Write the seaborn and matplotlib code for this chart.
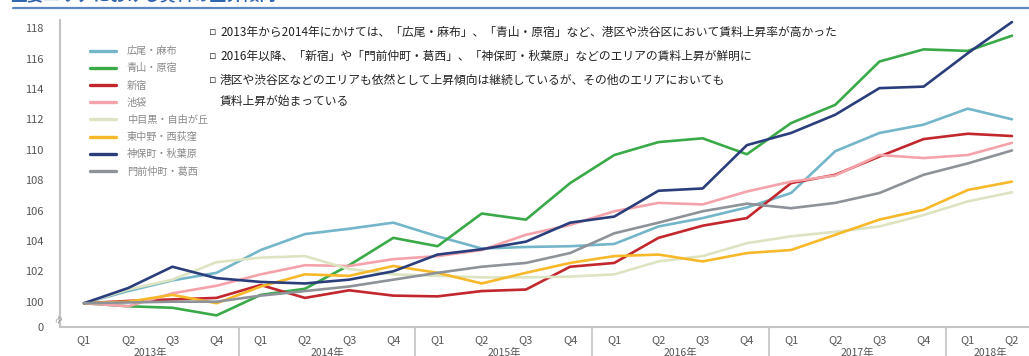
import matplotlib
matplotlib.use("Agg")
import matplotlib.pyplot as plt
import numpy as np
import pandas as pd
import seaborn as sns
from matplotlib.transforms import blended_transform_factory

# ---- data -------------------------------------------------------------
quarters = ["Q1", "Q2", "Q3", "Q4"] * 5 + ["Q1", "Q2"]
years = ["2013年", "2014年", "2015年", "2016年", "2017年", "2018年"]
areas = ["広尾・麻布", "青山・原宿", "新宿", "池袋",
         "中目黒・自由が丘", "東中野・西荻窪", "神保町・秋葉原", "門前仲町・葛西"]

hiroo_azabu = [99.9, 100.7, 101.4, 101.9, 103.4, 104.45, 104.8, 105.2, 104.3, 103.5, 103.6,
               103.65, 103.8, 104.95, 105.5, 106.2, 107.15, 109.9, 111.1, 111.65, 112.7, 112.0]
aoyama_harajuku = [99.9, 99.7, 99.6, 99.1, 100.45, 100.85, 102.4, 104.2, 103.65, 105.8, 105.4,
                   107.8, 109.65, 110.5, 110.75, 109.7, 111.75, 112.95, 115.8, 116.6, 116.5, 117.5]
shinjuku = [99.9, 100.05, 100.15, 100.25, 101.1, 100.25, 100.75, 100.4, 100.35, 100.7, 100.8,
            102.3, 102.55, 104.2, 105.0, 105.5, 107.8, 108.35, 109.55, 110.7, 111.05, 110.9]
ikebukuro = [99.9, 99.7, 100.55, 101.05, 101.8, 102.4, 102.35, 102.8, 103.0, 103.4, 104.4,
             105.05, 105.95, 106.5, 106.4, 107.25, 107.9, 108.3, 109.65, 109.45, 109.65, 110.45]
nakameguro_jiyugaoka = [99.9, 100.8, 101.45, 102.6, 102.9, 103.0, 102.15, 101.8, 101.7, 101.6, 101.6,
                        101.65, 101.8, 102.65, 103.0, 103.85, 104.3, 104.6, 104.95, 105.7, 106.6, 107.2]
higashinakano_nishiogikubo = [99.9, 100.0, 100.45, 99.9, 101.0, 101.8, 101.7, 102.35, 101.9, 101.2, 101.9,
                              102.55, 103.0, 103.1, 102.65, 103.2, 103.4, 104.4, 105.4, 106.05, 107.35, 107.9]
jimbocho_akihabara = [99.9, 100.9, 102.3, 101.55, 101.3, 101.2, 101.45, 102.0, 103.1, 103.45, 103.95,
                      105.2, 105.6, 107.3, 107.45, 110.3, 111.1, 112.3, 114.05, 114.15, 116.35, 118.4]
monzennakacho_kasai = [99.9, 99.95, 100.0, 100.0, 100.4, 100.7, 101.0, 101.45, 101.9, 102.3, 102.55,
                       103.2, 104.5, 105.2, 105.95, 106.45, 106.15, 106.5, 107.15, 108.35, 109.1, 109.95]

series = [hiroo_azabu, aoyama_harajuku, shinjuku, ikebukuro, nakameguro_jiyugaoka,
          higashinakano_nishiogikubo, jimbocho_akihabara, monzennakacho_kasai]
colors = ["#74b6c9", "#3aaa48", "#c1272d", "#f5a3ab",
          "#dde4c2", "#f7b82a", "#2b3e7c", "#8e9399"]

notes = [
    "2013年から2014年にかけては、「広尾・麻布」、「青山・原宿」など、港区や渋谷区において賃料上昇率が高かった",
    "2016年以降、「新宿」や「門前仲町・葛西」、「神保町・秋葉原」などのエリアの賃料上昇が鮮明に",
    "港区や渋谷区などのエリアも依然として上昇傾向は継続しているが、その他のエリアにおいても",
]
note_tail = "賃料上昇が始まっている"

idx = np.arange(len(quarters))
df = pd.DataFrame({
    "t": np.tile(idx, len(areas)),
    "value": np.concatenate(series),
    "area": np.repeat(areas, len(idx)),
})

# ---- figure -----------------------------------------------------------
sns.set_style("white")
plt.rcParams["font.family"] = ["Noto Sans CJK JP", "DejaVu Sans"]

W, H = 1029, 356
fig = plt.figure(figsize=(W / 100, H / 100), dpi=100)

# axis frame in pixel terms
x_left, x_right = 60, 1029
y_top, y_bot = 20, 326.7
ax = fig.add_axes([x_left / W, 1 - y_bot / H, (x_right - x_left) / W, (y_bot - y_top) / H])

px_per_q = 44.2
x0 = -(84 - x_left) / px_per_q
x1 = 21 + (x_right - 1012) / px_per_q
px_per_unit = 15.2
y_zero = 100 - (y_bot - 301.7) / px_per_unit
y_max = 100 + (301.7 - y_top) / px_per_unit

sns.lineplot(data=df, x="t", y="value", hue="area", hue_order=areas,
             palette=colors, estimator=None, sort=False, linewidth=1.9, ax=ax)

ax.set_xlim(x0, x1)
ax.set_ylim(y_zero, y_max)

grey_txt = "#555555"
ax.set_yticks([y_zero] + list(range(100, 119, 2)))
ax.set_yticklabels(["0"] + [str(v) for v in range(100, 119, 2)])
ax.set_xticks(idx)
ax.set_xticklabels(quarters)
ax.tick_params(axis="y", length=8, width=1.0, color="#aaaaaa", labelsize=8,
               labelcolor=grey_txt, pad=4)
ax.tick_params(axis="x", length=0, labelsize=8, labelcolor=grey_txt, pad=6)
ax.set_xlabel("")
ax.set_ylabel("")

for side in ["top", "right"]:
    ax.spines[side].set_visible(False)
for side in ["left", "bottom"]:
    ax.spines[side].set_color("#c4c4c4")
    ax.spines[side].set_linewidth(1.5)

# axis break mark near the bottom of the y axis
ax.text(x0, 98.9, "≈", ha="center", va="center", fontsize=7, color="#888888",
        rotation=60, clip_on=False)

ax.text(-0.12, y_max + 0.35, "(%)", ha="left", va="bottom", fontsize=6.5,
        color=grey_txt, transform=blended_transform_factory(ax.transAxes, ax.transData))

# year separators and year labels under the quarters
trans = blended_transform_factory(ax.transData, ax.transAxes)
for k in range(1, len(years)):
    xs = 4 * k - 0.5
    ax.plot([xs, xs], [0, -0.12], color="#c4c4c4", linewidth=1.2,
            transform=trans, clip_on=False)
for k, yr in enumerate(years):
    first = 4 * k
    last = min(4 * k + 3, len(idx) - 1)
    ax.text((first + last) / 2, -0.068, yr, ha="center", va="top", fontsize=7.5,
            color=grey_txt, transform=trans)

# legend
handles, labels = ax.get_legend_handles_labels()
leg = ax.legend(handles, labels, loc="upper left", frameon=False,
                bbox_to_anchor=(81 / W, 1 - 37 / H), bbox_transform=fig.transFigure,
                fontsize=7.3, handlelength=2.6, handletextpad=1.0, labelspacing=0.7)
for txt in leg.get_texts():
    txt.set_color("#8a8a8a")
for ln in leg.get_lines():
    ln.set_linewidth(2.4)

# commentary block
note_x = 209
note_ys = [32, 56, 80]
for y, line in zip(note_ys, notes):
    fig.text(note_x / W, 1 - y / H, "▫", ha="left", va="center", fontsize=8,
             color="#333333", family=["DejaVu Sans"])
    fig.text((note_x + 11) / W, 1 - y / H, line, ha="left", va="center",
             fontsize=8.5, color="#222222")
fig.text((note_x + 11) / W, 1 - 101 / H, note_tail, ha="left", va="center",
         fontsize=8.5, color="#222222")

# heading rule along the top edge
fig.add_artist(plt.Line2D([13 / W, 1.0], [1 - 8 / H, 1 - 8 / H], color="#5b86c0",
                          linewidth=1.6, transform=fig.transFigure))
fig.text(10 / W, 1 - 5 / H, "主要エリアにおける賃料の上昇傾向", ha="left", va="bottom",
         fontsize=12, color="#2f64b0", fontweight="bold")

fig.savefig("out.png", dpi=100)
